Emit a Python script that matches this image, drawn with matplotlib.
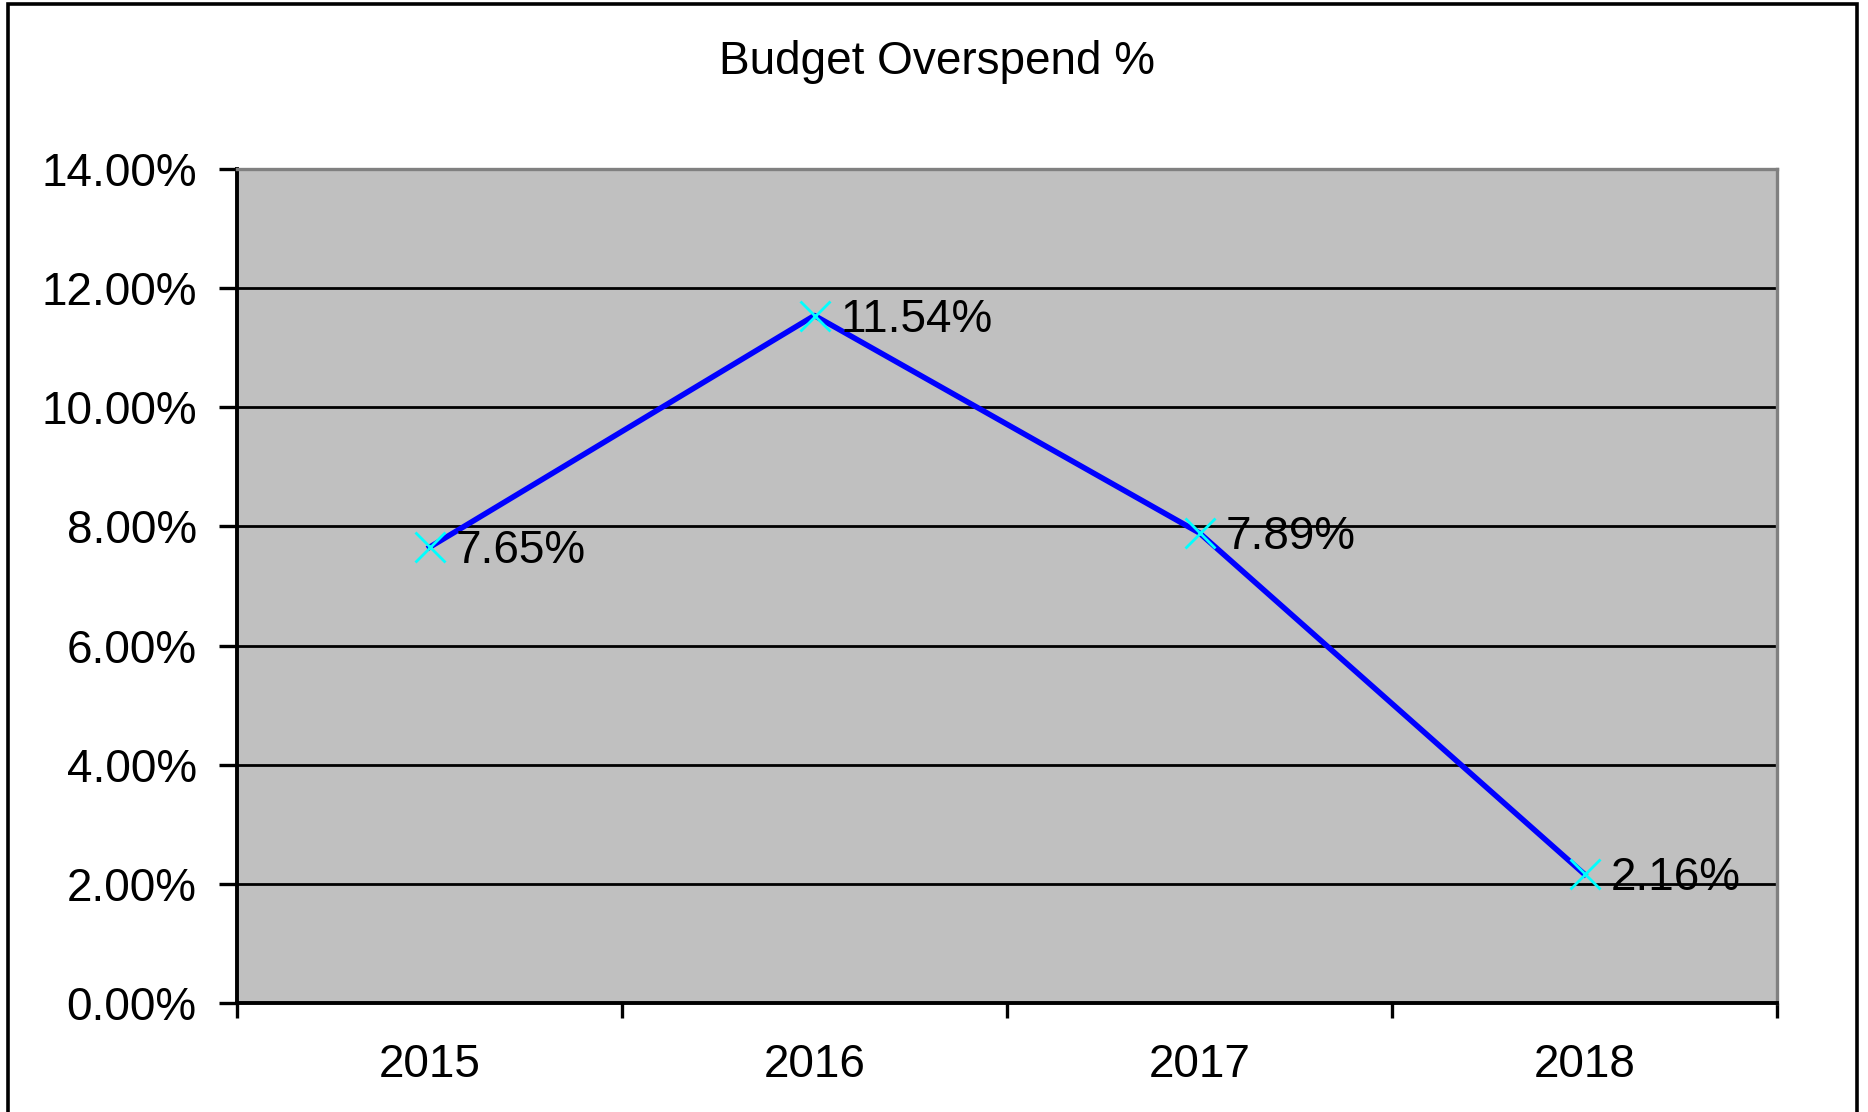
import numpy as np
import matplotlib.pyplot as plt
from matplotlib.patches import Rectangle
from matplotlib.ticker import FuncFormatter, FixedLocator

plt.rcParams['font.family'] = ['Liberation Sans', 'DejaVu Sans']

years = ["2015", "2016", "2017", "2018"]
overspend = [7.65, 11.54, 7.89, 2.16]
labels = ["7.65%", "11.54%", "7.89%", "2.16%"]
y_ticks = [0, 2, 4, 6, 8, 10, 12, 14]

fs = 33
fig = plt.figure(figsize=(18.68, 11.12), dpi=100)
ax = fig.add_axes([237 / 1868, 1 - 1003 / 1112, (1777 - 237) / 1868, (1003 - 169) / 1112])
ax.set_facecolor("#C0C0C0")

x = np.arange(len(years))
ax.plot(x, overspend, color="#0000FF", lw=4, zorder=3)
ax.plot(x, overspend, ls="none", marker="x", ms=21, mew=2.0, color="#00FFFF", zorder=4)

for xi, yi, lab in zip(x, overspend, labels):
    ax.annotate(lab, (xi, yi), xytext=(19, -3), textcoords="offset points",
                va="center", ha="left", fontsize=fs, color="black", zorder=5)

ax.set_xlim(-0.5, len(years) - 0.5)
ax.set_ylim(0, 14)
ax.set_yticks(y_ticks)
ax.yaxis.set_major_formatter(FuncFormatter(lambda v, p: f"{v:.2f}%"))
ax.yaxis.grid(True, color="black", lw=2.0)
ax.set_axisbelow(True)

ax.xaxis.set_major_locator(FixedLocator(np.arange(-0.5, len(years), 1.0)))
ax.xaxis.set_major_formatter(FuncFormatter(lambda v, p: ""))
ax.set_xticks(x, minor=True)
ax.set_xticklabels(years, minor=True)
ax.tick_params(axis="x", which="minor", length=0, pad=29, labelsize=fs)
ax.tick_params(axis="x", which="major", length=11, width=2.4, direction="out")
ax.tick_params(axis="y", length=13, width=2.4, direction="out", pad=16, labelsize=fs)

ax.spines["left"].set_linewidth(2.8)
ax.spines["bottom"].set_linewidth(2.8)
ax.spines["top"].set_color("#808080")
ax.spines["right"].set_color("#808080")
ax.spines["top"].set_linewidth(2.4)
ax.spines["right"].set_linewidth(2.4)

fig.text(937 / 1868, 1 - 62 / 1112, "Budget Overspend %", ha="center", va="center", fontsize=fs)

# outer chart frame, bottom edge runs off the picture
fig.patches.append(Rectangle((8 / 1868, -0.05), (1857 - 8) / 1868, 1.05 - 4 / 1112,
                             transform=fig.transFigure, fill=False, ec="black", lw=2.6))

fig.savefig("out.png", dpi=100)
